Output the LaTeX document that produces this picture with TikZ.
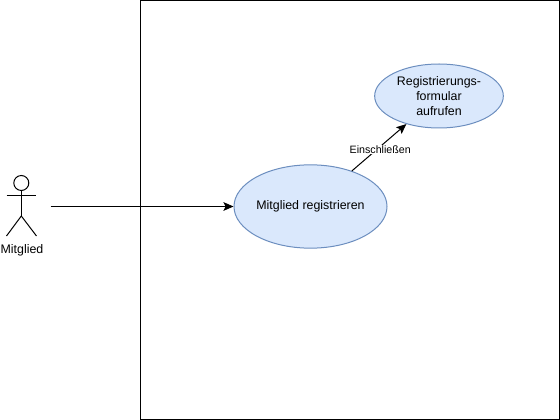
\documentclass[tikz,border=0pt]{standalone}
\usepackage{fontspec}
\setmainfont{Liberation Sans}
\usetikzlibrary{shapes.geometric}
\usetikzlibrary{arrows.meta}
\definecolor{casefill}{HTML}{DAE8FC}
\definecolor{caseline}{HTML}{6C8EBF}
\tikzset{every picture/.style={line width=0.75pt},
  usecase/.style={ellipse,draw=caseline,fill=casefill,inner sep=0pt,align=center,font=\fontsize{9.3}{11}\selectfont},
  arrow/.style={-{Stealth[length=7.5pt,width=6.5pt,inset=1.5pt]}}}

\begin{document}
\begin{tikzpicture}[x=0.75pt,y=-0.75pt]
\useasboundingbox (0,0) rectangle (560,420);
\draw (140.5,0.5) rectangle (559.5,419.5);
\node [usecase,minimum width=114pt,minimum height=62.5pt] (register) at (310.5,206.5) {Mitglied registrieren};
\node [usecase,minimum width=96.5pt,minimum height=48pt] (form) at (439,96) {Registrierungs-\\formular\\aufrufen};
\node [circle,draw,inner sep=0pt,minimum size=11.25pt] (head) at (21.3,183) {};
\coordinate (hip) at (21.3,216);
\draw (head) -- (hip);
\draw (6.5,195.5) -- (36,195.5);
\draw (6.5,236) -- (hip) -- (36.5,236);
\node [font=\fontsize{9.3}{11}\selectfont] (actor) at (22,250.5) {Mitglied};
\coordinate (start) at (50.5,206.5);
\draw [arrow] (start) -- (register);
\draw [arrow] (register) -- (form) node [pos=0.46,xshift=2.5pt,fill=white,inner sep=0.5pt,font=\fontsize{8}{9}\selectfont] (include) {Einschließen};
\end{tikzpicture}
\end{document}
